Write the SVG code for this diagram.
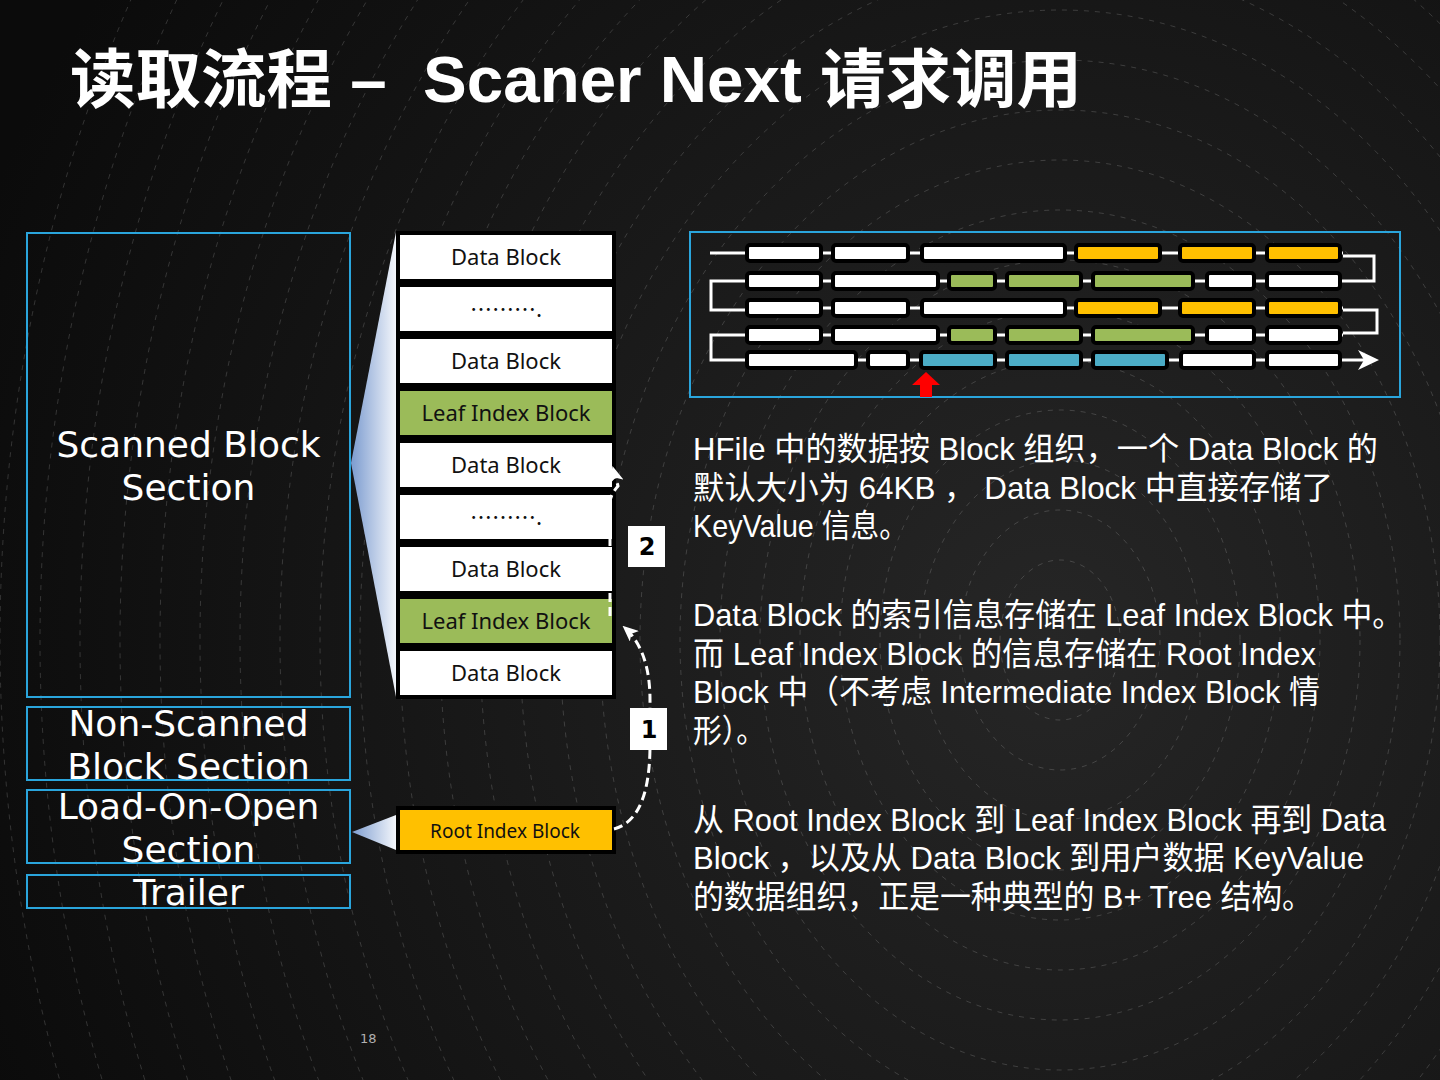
<svg xmlns="http://www.w3.org/2000/svg" width="1440" height="1080" viewBox="0 0 1440 1080">
<defs>
<radialGradient id="bg" cx="1050" cy="640" r="1150" gradientUnits="userSpaceOnUse">
<stop offset="0" stop-color="#262626"/>
<stop offset="1" stop-color="#0b0b0b"/>
</radialGradient>
<linearGradient id="funnel" x1="351" y1="0" x2="396" y2="0" gradientUnits="userSpaceOnUse">
<stop offset="0" stop-color="#7b9bcf"/>
<stop offset="1" stop-color="#f3f6fb"/>
</linearGradient>
<marker id="ah" viewBox="0 0 16 14" refX="14" refY="7" markerWidth="16" markerHeight="14" markerUnits="userSpaceOnUse" orient="auto">
<path d="M0,0 L16,7 L0,14 L4,7 Z" fill="#ffffff"/>
</marker>
</defs>
<style>
.sec{fill:none;stroke:#2aa5dc;stroke-width:2}
.secT{font-family:"DejaVu Sans",sans-serif;font-size:36px;fill:#ffffff;text-anchor:middle}
.blk{stroke:#000;stroke-width:4}
.blkT{font-family:"Noto Sans","DejaVu Sans",sans-serif;font-size:22px;fill:#111;text-anchor:middle}
.dots{font-family:"Noto Sans CJK SC",sans-serif;font-size:22px;fill:#111;text-anchor:middle}
.rootT{font-family:"Noto Sans","DejaVu Sans",sans-serif;font-size:19px;fill:#111;text-anchor:middle}
.pill{stroke:#000;stroke-width:4}
.W{fill:#ffffff}.Y{fill:#ffc000}.G{fill:#9bbb59}.B{fill:#4bacc6}
.wl{fill:none;stroke:#ffffff;stroke-width:3}
.para{font-family:"Liberation Sans Narrow","Liberation Sans","Noto Sans CJK SC",sans-serif;font-size:32px;fill:#ffffff}
.dash{fill:none;stroke:#ffffff;stroke-width:3;stroke-dasharray:9 5}
.lbl{fill:#ffffff}
.lblT{font-family:"DejaVu Sans",sans-serif;font-weight:bold;font-size:24px;fill:#000;text-anchor:middle}
.ring{fill:none;stroke:#ffffff;stroke-opacity:0.16;stroke-width:1;stroke-dasharray:5 6}
</style>
<rect x="0" y="0" width="1440" height="1080" fill="url(#bg)"/>
<g id="texture">
<ellipse class="ring" cx="1060" cy="640" rx="60" ry="80"/>
<ellipse class="ring" cx="1060" cy="640" rx="100" ry="130"/>
<ellipse class="ring" cx="1060" cy="640" rx="140" ry="180"/>
<ellipse class="ring" cx="1060" cy="640" rx="180" ry="230"/>
<ellipse class="ring" cx="1060" cy="640" rx="220" ry="280"/>
<ellipse class="ring" cx="1060" cy="640" rx="260" ry="330"/>
<ellipse class="ring" cx="1060" cy="640" rx="300" ry="380"/>
<ellipse class="ring" cx="1060" cy="640" rx="340" ry="430"/>
<ellipse class="ring" cx="1060" cy="640" rx="380" ry="480"/>
<ellipse class="ring" cx="1060" cy="640" rx="420" ry="530"/>
<ellipse class="ring" cx="1060" cy="640" rx="460" ry="580"/>
<ellipse class="ring" cx="1060" cy="640" rx="500" ry="630"/>
<ellipse class="ring" cx="1060" cy="640" rx="540" ry="680"/>
<ellipse class="ring" cx="1060" cy="640" rx="580" ry="730"/>
<ellipse class="ring" cx="1060" cy="640" rx="620" ry="780"/>
<ellipse class="ring" cx="1060" cy="640" rx="660" ry="830"/>
<ellipse class="ring" cx="1060" cy="640" rx="700" ry="880"/>
<ellipse class="ring" cx="1060" cy="640" rx="740" ry="930"/>
<ellipse class="ring" cx="1060" cy="640" rx="780" ry="980"/>
<ellipse class="ring" cx="1060" cy="640" rx="820" ry="1030"/>
<ellipse class="ring" cx="1060" cy="640" rx="860" ry="1080"/>
<ellipse class="ring" cx="1060" cy="640" rx="900" ry="1130"/>
<ellipse class="ring" cx="1060" cy="640" rx="940" ry="1180"/>
<ellipse class="ring" cx="1060" cy="640" rx="980" ry="1230"/>
<ellipse class="ring" cx="1060" cy="640" rx="1020" ry="1280"/>
<ellipse class="ring" cx="1060" cy="640" rx="1060" ry="1330"/>
</g>

<text id="title" x="70" y="102" xml:space="preserve" textLength="1012" lengthAdjust="spacingAndGlyphs" font-family="'Liberation Sans','Noto Sans CJK SC',sans-serif" font-weight="bold" font-size="64" fill="#ffffff">读取流程 –  Scaner Next 请求调用</text>

<g id="sections">
<g id="scanned"><rect class="sec" x="27" y="233" width="323" height="464"/><text class="secT" x="188.5" y="457">Scanned Block</text><text class="secT" x="188.5" y="500">Section</text></g>
<g id="nonscanned"><rect class="sec" x="27" y="707" width="323" height="73"/><text class="secT" x="188.5" y="736">Non-Scanned</text><text class="secT" x="188.5" y="779">Block Section</text></g>
<g id="loadonopen"><rect class="sec" x="27" y="790" width="323" height="73"/><text class="secT" x="188.5" y="819">Load-On-Open</text><text class="secT" x="188.5" y="862">Section</text></g>
<g id="trailer"><rect class="sec" x="27" y="875" width="323" height="33"/><text class="secT" x="188.5" y="905">Trailer</text></g>
</g>

<g id="funnels">
<polygon points="351,463 396,232 396,697" fill="url(#funnel)"/>
<polygon points="352,832 396,815 396,850" fill="url(#funnel)"/>
</g>

<g id="stack">
<g id="b1"><rect class="blk W" x="398" y="233" width="216" height="48"/><text class="blkT" x="506" y="265">Data Block</text></g>
<g id="b2"><rect class="blk W" x="398" y="285" width="216" height="48"/><text class="dots" x="506" y="317">……….</text></g>
<g id="b3"><rect class="blk W" x="398" y="337" width="216" height="48"/><text class="blkT" x="506" y="369">Data Block</text></g>
<g id="b4"><rect class="blk G" x="398" y="389" width="216" height="48"/><text class="blkT" x="506" y="421">Leaf Index Block</text></g>
<g id="b5"><rect class="blk W" x="398" y="441" width="216" height="48"/><text class="blkT" x="506" y="473">Data Block</text></g>
<g id="b6"><rect class="blk W" x="398" y="493" width="216" height="48"/><text class="dots" x="506" y="525">……….</text></g>
<g id="b7"><rect class="blk W" x="398" y="545" width="216" height="48"/><text class="blkT" x="506" y="577">Data Block</text></g>
<g id="b8"><rect class="blk G" x="398" y="597" width="216" height="48"/><text class="blkT" x="506" y="629">Leaf Index Block</text></g>
<g id="b9"><rect class="blk W" x="398" y="649" width="216" height="48"/><text class="blkT" x="506" y="681">Data Block</text></g>
<g id="root"><rect class="blk Y" x="398" y="808" width="216" height="44"/><text class="rootT" x="505" y="838">Root Index Block</text></g>
</g>

<g id="connectors">
<path class="dash" d="M610,616 L610,502 C611,494 615,490 618,486 L613,468" marker-end="url(#ah)"/>
<path class="dash" d="M614,829 C640,822 650,790 650,745 L650,700 C650,668 642,643 624,627" marker-end="url(#ah)"/>
</g>
<g id="label2"><rect class="lbl" x="628" y="526" width="37" height="41"/><text class="lblT" x="647" y="555">2</text></g>
<g id="label1"><rect class="lbl" x="630" y="708" width="37" height="42"/><text class="lblT" x="649" y="738">1</text></g>

<g id="scanpanel">
<rect class="sec" x="690" y="232" width="710" height="165"/>
<g id="lines">
<line class="wl" x1="710" y1="253" x2="1343" y2="253"/>
<line class="wl" x1="745" y1="281" x2="1343" y2="281"/>
<line class="wl" x1="745" y1="308" x2="1343" y2="308"/>
<line class="wl" x1="745" y1="335" x2="1343" y2="335"/>
<line class="wl" x1="745" y1="360" x2="1372" y2="360"/>
<polyline class="wl" points="1343,256 1374,256 1374,281 1343,281"/>
<polyline class="wl" points="745,281 711,281 711,310 745,310"/>
<polyline class="wl" points="1343,310 1377,310 1377,333 1343,333"/>
<polyline class="wl" points="745,335 711,335 711,360 745,360"/>
<path d="M1358,350 L1379,360 L1358,370 L1364,360 Z" fill="#ffffff"/>
</g>
<g id="row1">
<rect class="pill W" x="747" y="245" width="74" height="16" rx="3"/>
<rect class="pill W" x="833" y="245" width="75" height="16" rx="3"/>
<rect class="pill W" x="922" y="245" width="143" height="16" rx="3"/>
<rect class="pill Y" x="1076" y="245" width="84" height="16" rx="3"/>
<rect class="pill Y" x="1180" y="245" width="74" height="16" rx="3"/>
<rect class="pill Y" x="1267" y="245" width="73" height="16" rx="3"/>
</g>
<g id="row2">
<rect class="pill W" x="747" y="273" width="74" height="16" rx="3"/>
<rect class="pill W" x="833" y="273" width="105" height="16" rx="3"/>
<rect class="pill G" x="949" y="273" width="46" height="16" rx="3"/>
<rect class="pill G" x="1007" y="273" width="74" height="16" rx="3"/>
<rect class="pill G" x="1093" y="273" width="100" height="16" rx="3"/>
<rect class="pill W" x="1207" y="273" width="47" height="16" rx="3"/>
<rect class="pill W" x="1267" y="273" width="73" height="16" rx="3"/>
</g>
<g id="row3">
<rect class="pill W" x="747" y="300" width="74" height="16" rx="3"/>
<rect class="pill W" x="833" y="300" width="75" height="16" rx="3"/>
<rect class="pill W" x="922" y="300" width="143" height="16" rx="3"/>
<rect class="pill Y" x="1076" y="300" width="84" height="16" rx="3"/>
<rect class="pill Y" x="1180" y="300" width="74" height="16" rx="3"/>
<rect class="pill Y" x="1267" y="300" width="73" height="16" rx="3"/>
</g>
<g id="row4">
<rect class="pill W" x="747" y="327" width="74" height="16" rx="3"/>
<rect class="pill W" x="833" y="327" width="105" height="16" rx="3"/>
<rect class="pill G" x="949" y="327" width="46" height="16" rx="3"/>
<rect class="pill G" x="1007" y="327" width="74" height="16" rx="3"/>
<rect class="pill G" x="1093" y="327" width="100" height="16" rx="3"/>
<rect class="pill W" x="1207" y="327" width="47" height="16" rx="3"/>
<rect class="pill W" x="1267" y="327" width="73" height="16" rx="3"/>
</g>
<g id="row5">
<rect class="pill W" x="747" y="352" width="109" height="16" rx="3"/>
<rect class="pill W" x="868" y="352" width="40" height="16" rx="3"/>
<rect class="pill B" x="921" y="352" width="74" height="16" rx="3"/>
<rect class="pill B" x="1007" y="352" width="74" height="16" rx="3"/>
<rect class="pill B" x="1093" y="352" width="74" height="16" rx="3"/>
<rect class="pill W" x="1181" y="352" width="73" height="16" rx="3"/>
<rect class="pill W" x="1267" y="352" width="73" height="16" rx="3"/>
</g>
<polygon id="pointer" points="926,372 940,385 932,385 932,397 920,397 920,385 912,385" fill="#ff0000"/>
</g>

<g id="desc">
<text class="para" x="693" y="460" textLength="685" lengthAdjust="spacingAndGlyphs">HFile 中的数据按 Block 组织，一个 Data Block 的</text>
<text class="para" x="693" y="499" textLength="640" lengthAdjust="spacingAndGlyphs">默认大小为 64KB ， Data Block 中直接存储了</text>
<text class="para" x="693" y="537" textLength="215" lengthAdjust="spacingAndGlyphs">KeyValue 信息。</text>
<text class="para" x="693" y="626" textLength="710" lengthAdjust="spacingAndGlyphs">Data Block 的索引信息存储在 Leaf Index Block 中。</text>
<text class="para" x="693" y="665" textLength="623" lengthAdjust="spacingAndGlyphs">而 Leaf Index Block 的信息存储在 Root Index</text>
<text class="para" x="693" y="703" textLength="627" lengthAdjust="spacingAndGlyphs">Block 中（不考虑 Intermediate Index Block 情</text>
<text class="para" x="693" y="742" textLength="72" lengthAdjust="spacingAndGlyphs">形）。</text>
<text class="para" x="693" y="831" textLength="693" lengthAdjust="spacingAndGlyphs">从 Root Index Block 到 Leaf Index Block 再到 Data</text>
<text class="para" x="693" y="869" textLength="671" lengthAdjust="spacingAndGlyphs">Block ，以及从 Data Block 到用户数据 KeyValue</text>
<text class="para" x="693" y="908" textLength="620" lengthAdjust="spacingAndGlyphs">的数据组织，正是一种典型的 B+ Tree 结构。</text>
</g>

<text id="pagenum" x="360" y="1043" font-family="'DejaVu Sans',sans-serif" font-size="13" fill="#b0b0b0">18</text>
</svg>
